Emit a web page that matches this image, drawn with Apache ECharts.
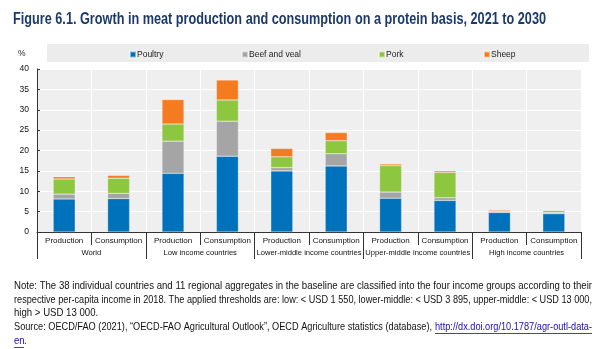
<!DOCTYPE html>
<html>
<head>
<meta charset="utf-8">
<script src="https://cdn.jsdelivr.net/npm/echarts@6/dist/echarts.min.js"></script>
<style>html,body{margin:0;padding:0;background:#fff;}#c{width:602px;height:349px;}</style>
</head>
<body>
<div id="c"></div>
<script>
const categories = ['Production','Consumption','Production','Consumption','Production','Consumption','Production','Consumption','Production','Consumption'];
const groups = ['World','Low income countries','Lower-middle income countries','Upper-middle income countries','High income countries'];
const poultry = [8.1, 8.2, 14.4, 18.6, 15.0, 16.2, 8.3, 7.75, 4.8, 4.5];
const beef    = [1.2, 1.3, 7.9, 8.6, 0.8, 3.0, 1.5, 0.65, 0.25, 0.3];
const pork    = [3.7, 3.7, 4.2, 5.2, 2.65, 3.2, 6.5, 6.2, -0.15, 0.5];
const sheep   = [0.55, 0.7, 6.0, 4.9, 2.05, 2.0, 0.4, 0.4, 0.3, 0.1];
const yTicks = [0,5,10,15,20,25,30,35,40];

const FONT = "'Liberation Sans',Arial,sans-serif";
const colors = {Poultry:'#0072bc', 'Beef and veal':'#a5a5a5', Pork:'#8dc63f', Sheep:'#f47b20'};

const mctx = document.createElement('canvas').getContext('2d');
function measure(text, font){ mctx.font = font; return mctx.measureText(text).width; }
function fitText(text, font, left, top, width, fill){
  const w = measure(text, font);
  return {type:'text', x:left, y:top, scaleX: width / w,
    style:{text, font, fill, textVerticalAlign:'top'}};
}
function narrowText(text, font, left, top, ratio, fill){
  return {type:'text', x:left, y:top, scaleX: ratio,
    style:{text, font, fill, textVerticalAlign:'top'}};
}

const chart = echarts.init(document.getElementById('c'), null, {renderer:'canvas'});

function mkSeries(name, data){
  return {name, type:'bar', stack:'total', data, barWidth:22,
    itemStyle:{color:colors[name], borderColor:'rgba(255,255,255,0.5)', borderWidth:0.5}, emphasis:{disabled:true}};
}
function mkLegend(name, left){
  return {data:[name], left, top:50, padding:0, icon:'rect', itemWidth:6, itemHeight:6,
    textStyle:{fontFamily:FONT, fontSize:8.5, color:'#222', padding:[0,0,0,-4]}, selectedMode:false};
}

const noteLines = [
 'Note: The 38 individual countries and 11 regional aggregates in the baseline are classified into the four income groups according to their',
 'respective per-capita income in 2018. The applied thresholds are: low: < USD 1 550, lower-middle: < USD 3 895, upper-middle: < USD 13 000,',
 'high > USD 13 000.'
];
const NF = "10.5px " + FONT;
const noteRatio = 578 / measure(noteLines[0], NF);
const srcText = 'Source: OECD/FAO (2021), \u201cOECD-FAO Agricultural Outlook\u201d, OECD Agriculture statistics (database),';
const linkText = 'http://dx.doi.org/10.1787/agr-outl-data-';

chart.setOption({
  animation:false,
  backgroundColor:'#fff',
  textStyle:{fontFamily:FONT},
  grid:{left:37, right:21, top:69, bottom:117, backgroundColor:'#efefef', show:true, borderWidth:0},
  legend:[mkLegend('Poultry',129), mkLegend('Beef and veal',241), mkLegend('Pork',378), mkLegend('Sheep',483)],
  graphic:[
    {type:'rect', z:-1, shape:{x:47,y:44,width:542,height:18}, style:{fill:'#ececec'}},
    fitText('Figure 6.1. Growth in meat production and consumption on a protein basis, 2021 to 2030', "bold 16px "+FONT, 13, 12, 533, '#1b3a6b'),
    {type:'text', x:18, y:49, style:{text:'%', font:"8.5px "+FONT, fill:'#222', textVerticalAlign:'top'}},
    fitText(noteLines[0], NF, 14, 281, 578, '#111'),
    fitText(noteLines[1], NF, 14, 295, 578, '#111'),
    narrowText(noteLines[2], NF, 14, 308, noteRatio, '#111'),
    fitText(srcText, NF, 14, 322, 418, '#111'),
    fitText(linkText, NF, 435, 322, 157, '#1a0dab'),
    {type:'line', shape:{x1:435,y1:333.5,x2:592,y2:333.5}, style:{stroke:'#1a0dab', lineWidth:0.8}},
    narrowText('en', NF, 14, 336, noteRatio, '#1a0dab'),
    {type:'line', shape:{x1:14,y1:347.5,x2:24,y2:347.5}, style:{stroke:'#1a0dab', lineWidth:0.8}},
    narrowText('.', NF, 24, 336, noteRatio, '#111')
  ],
  xAxis:[
    {type:'category', data:categories, position:'bottom',
      axisLine:{lineStyle:{color:'#333', width:1}},
      axisTick:{show:true, length:13, interval:0, lineStyle:{color:'#333'}},
      axisLabel:{interval:0, fontSize:8, color:'#111', margin:5, fontFamily:FONT},
      splitLine:{show:true, interval:0, lineStyle:{color:'#fff', width:1}}},
    {type:'category', data:groups, position:'bottom',
      axisLine:{show:false},
      axisTick:{show:true, length:27, interval:0, lineStyle:{color:'#333'}},
      axisLabel:{interval:0, fontSize:7.6, color:'#111', margin:17, fontFamily:FONT},
      splitLine:{show:false}}
  ],
  yAxis:{type:'value', min:yTicks[0], max:yTicks[yTicks.length-1], interval:5,
    axisLine:{show:true, lineStyle:{color:'#333'}},
    axisTick:{show:true, inside:true, length:3, lineStyle:{color:'#333'}},
    axisLabel:{fontSize:8.5, color:'#111', margin:8, fontFamily:FONT},
    splitLine:{lineStyle:{color:'#fff', width:1}}},
  series:[mkSeries('Poultry',poultry), mkSeries('Beef and veal',beef), mkSeries('Pork',pork), mkSeries('Sheep',sheep)]
});
</script>
</body>
</html>
